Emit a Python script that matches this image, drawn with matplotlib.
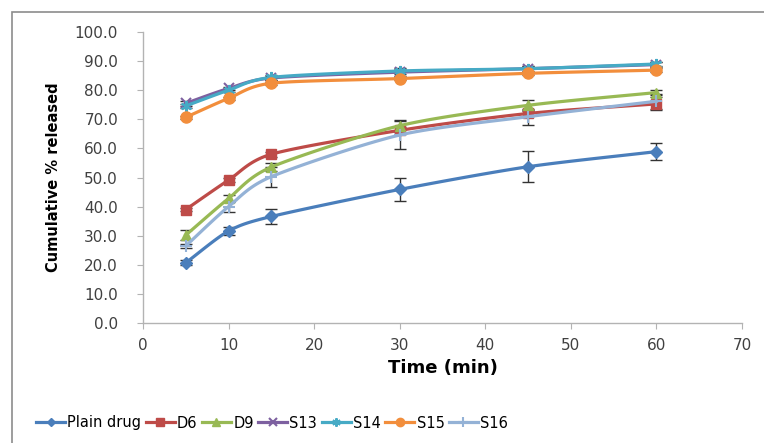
import numpy as np
import matplotlib.pyplot as plt
from matplotlib.patches import Rectangle

plt.rcParams['font.family'] = ['DejaVu Sans']

# time points (min)
tempo = [5, 10, 15, 30, 45, 60]

# cumulative % released and error bars for each formulation
plain_drug = [20.7, 31.6, 36.6, 45.9, 53.7, 58.9]
plain_drug_err = [0.8, 1.3, 2.6, 3.9, 5.3, 2.9]
d6 = [39.0, 49.1, 58.0, 66.2, 72.0, 75.3]
d6_err = [0.6, 0.8, 0.8, 1.2, 1.0, 2.2]
d9 = [30.2, 42.8, 53.6, 67.8, 74.8, 79.2]
d9_err = [1.8, 1.2, 1.5, 2.0, 1.7, 1.0]
s13 = [75.5, 80.6, 84.2, 86.2, 87.4, 88.8]
s13_err = [0.8, 0.6, 0.8, 1.2, 1.0, 0.8]
s14 = [74.6, 80.0, 84.4, 86.6, 87.4, 89.0]
s14_err = [0.8, 0.6, 0.8, 1.0, 0.8, 0.8]
s15 = [70.7, 77.2, 82.4, 84.0, 85.8, 86.9]
s15_err = [0.5, 0.5, 0.5, 0.6, 0.6, 0.6]
s16 = [26.5, 40.0, 50.3, 64.6, 70.9, 76.2]
s16_err = [0.7, 2.0, 3.4, 4.8, 2.8, 2.6]

nomes = ['Plain drug', 'D6', 'D9', 'S13', 'S14', 'S15', 'S16']
series = [plain_drug, d6, d9, s13, s14, s15, s16]
erros = [plain_drug_err, d6_err, d9_err, s13_err, s14_err, s15_err, s16_err]
cores = ['#4a7ebb', '#be4b48', '#98b954', '#7d60a0', '#46aac5', '#f28e3c', '#94b2d6']
marcadores = ['D', 's', '^', 'x', (6, 2, 0), 'o', '+']
tam_marc = [6, 7, 7, 7, 8, 8, 9]


def suavizar(x, y, passos=20, tensao=0.8):
    # Catmull-Rom so para desenhar a linha suave (como no Excel)
    x = np.asarray(x, float)
    y = np.asarray(y, float)
    px = np.concatenate([[2 * x[0] - x[1]], x, [2 * x[-1] - x[-2]]])
    py = np.concatenate([[2 * y[0] - y[1]], y, [2 * y[-1] - y[-2]]])
    xs, ys = [x[0]], [y[0]]
    t = np.linspace(0, 1, passos + 1)[1:]
    h00 = 2 * t ** 3 - 3 * t ** 2 + 1
    h10 = t ** 3 - 2 * t ** 2 + t
    h01 = -2 * t ** 3 + 3 * t ** 2
    h11 = t ** 3 - t ** 2
    for i in range(1, len(px) - 2):
        for arr, out in ((px, xs), (py, ys)):
            p0, p1, p2, p3 = arr[i - 1], arr[i], arr[i + 1], arr[i + 2]
            m1 = tensao * 0.5 * (p2 - p0)
            m2 = tensao * 0.5 * (p3 - p1)
            out.extend(h00 * p1 + h10 * m1 + h01 * p2 + h11 * m2)
    return np.array(xs), np.array(ys), list(range(0, len(xs), passos))


fig = plt.figure(figsize=(7.64, 4.43), dpi=100)
ax = fig.add_axes([143 / 764, 1 - 323 / 443, (742 - 143) / 764, (323 - 32) / 443])

# moldura do grafico
fig.patches.append(Rectangle((12 / 764, -0.1), 1.2, 1 - 12 / 443 + 0.1,
                             transform=fig.transFigure, fill=False,
                             edgecolor='#8c8c8c', linewidth=1.2))

for nome, y, err, cor, mk, ms in zip(nomes, series, erros, cores, marcadores, tam_marc):
    xs, ys, idx = suavizar(tempo, y)
    ax.errorbar(tempo, y, yerr=err, fmt='none', ecolor='#333333',
                elinewidth=1.0, capsize=4, capthick=1.0, zorder=2)
    ax.plot(xs, ys, color=cor, linewidth=2.3, marker=mk, markersize=ms,
            markevery=idx, markeredgewidth=1.5 if mk in ('x', '+') or isinstance(mk, tuple) else 1,
            markeredgecolor=cor, markerfacecolor=cor, label=nome, zorder=3)

ax.set_xlim(0, 70)
ax.set_ylim(0, 100)
ax.set_xticks(np.arange(0, 71, 10))
ax.set_yticks(np.arange(0, 101, 10))
ax.set_yticklabels([f'{v:.1f}' for v in np.arange(0, 101, 10)])

for lado in ['top', 'right']:
    ax.spines[lado].set_visible(False)
for lado in ['left', 'bottom']:
    ax.spines[lado].set_color('#b3b3b3')
    ax.spines[lado].set_linewidth(1.0)
ax.tick_params(axis='both', colors='#b3b3b3', labelcolor='#404040',
               labelsize=11, length=4, direction='out')
ax.tick_params(axis='x', pad=7)
ax.tick_params(axis='y', pad=14)

ax.set_xlabel('Time (min)', fontsize=13, fontweight='bold', labelpad=4)
ax.set_ylabel('Cumulative % released', fontsize=10.5, fontweight='bold', labelpad=10)

fig.legend(loc='center', bbox_to_anchor=(272 / 764, 1 - 423 / 443), ncol=7,
           frameon=False, fontsize=10.5, handlelength=2.0, handletextpad=0.15,
           columnspacing=0.3, markerscale=0.75)

fig.savefig('out.png', dpi=100)
